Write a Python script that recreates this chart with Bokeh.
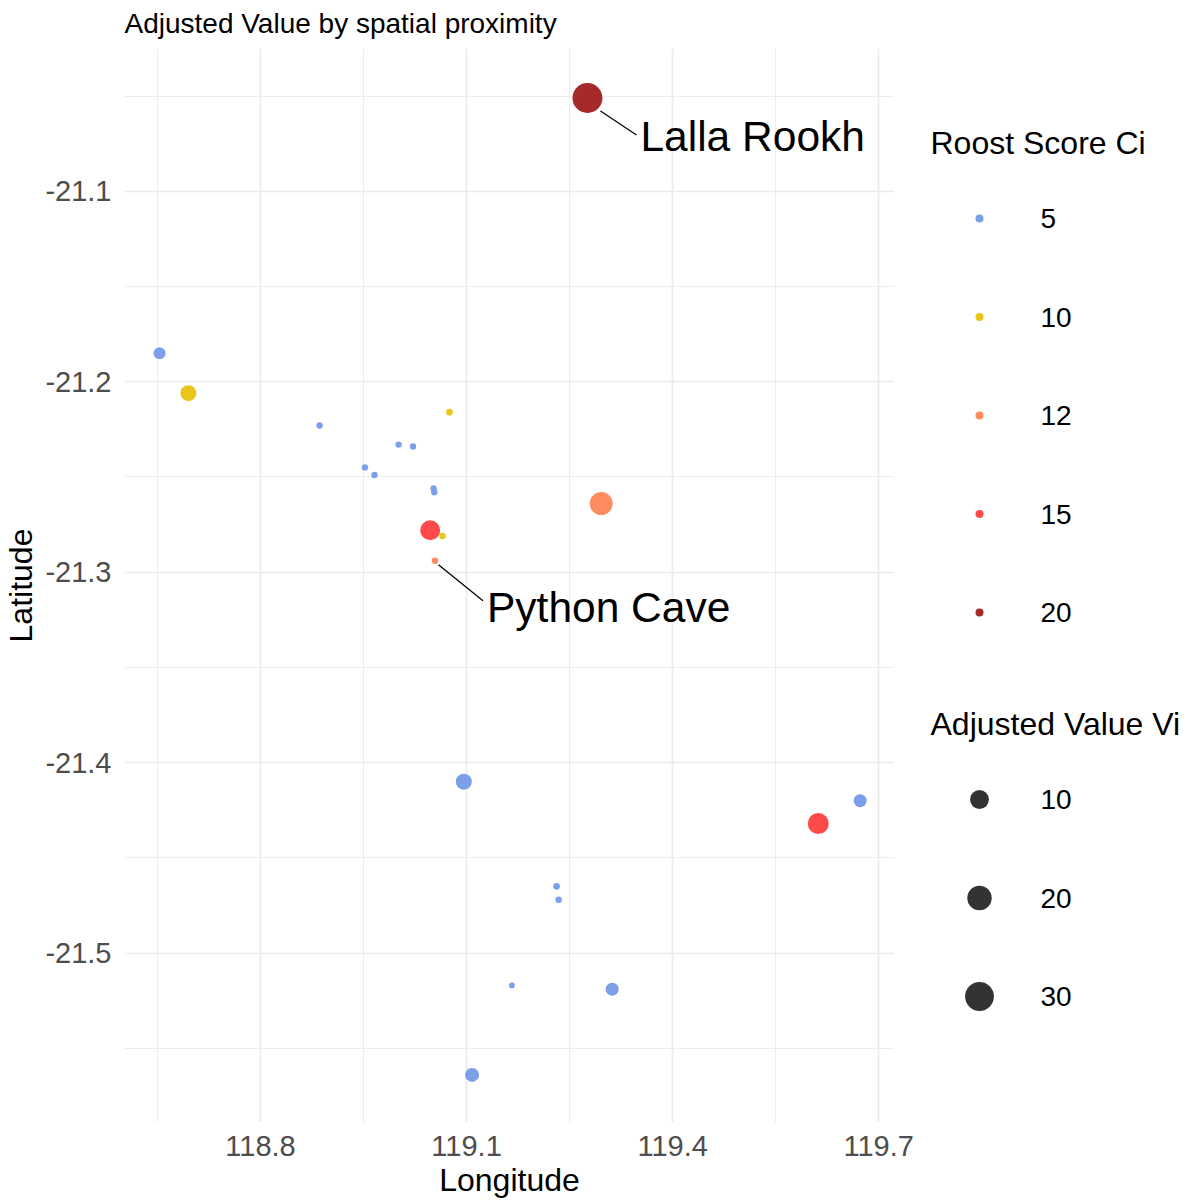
import numpy as np
from bokeh.plotting import figure
from bokeh.models import Range1d, FixedTicker, ColumnDataSource, NumeralTickFormatter
from bokeh.layouts import row
from bokeh.embed import file_html
from bokeh.resources import INLINE
from bokeh.core.properties import value

# ---------------- data ----------------
lon = [118.653, 118.695, 118.886, 119.075, 119.001, 119.022, 118.952, 118.966,
       119.052, 119.053, 119.047, 119.065, 119.054, 119.296, 119.276, 119.096,
       119.673, 119.612, 119.231, 119.234, 119.166, 119.312, 119.108]
lat = [-21.185, -21.206, -21.223, -21.216, -21.233, -21.234, -21.245, -21.249,
       -21.256, -21.258, -21.278, -21.281, -21.294, -21.264, -21.051, -21.410,
       -21.420, -21.432, -21.465, -21.472, -21.517, -21.519, -21.564]
roost_ci = [5, 10, 5, 10, 5, 5, 5, 5, 5, 5, 15, 10, 12, 12, 20, 5, 5, 15, 5, 5, 5, 5, 5]
adj_vi = [2.6, 6.4, 0.1, 0.15, 0.1, 0.1, 0.1, 0.1, 0.1, 0.1, 11.9, 0.1, 0.1, 17.1,
          33.0, 6.4, 3.4, 13.5, 0.15, 0.1, 0.03, 3.4, 4.3]

ci_levels = [5, 10, 12, 15, 20]
ci_colors = ["#7B9FE8", "#E8C61A", "#FF8C5E", "#FF4A4A", "#A52A2A"]
vi_levels = [10, 20, 30]

x_ticks = [118.8, 119.1, 119.4, 119.7]
x_minor = [118.65, 118.95, 119.25, 119.55]
y_ticks = [-21.5, -21.4, -21.3, -21.2, -21.1]
y_minor = [-21.55, -21.45, -21.35, -21.25, -21.15, -21.05]

title_text = "Adjusted Value by spatial proximity"
label_names = ["Lalla Rookh", "Python Cave"]
label_idx = [14, 12]

# ---------------- style / layout ----------------
FONT = "Liberation Sans"
X0, X1 = 118.602, 119.723
Y0, Y1 = -21.589, -21.025
FW, FH = 770, 1074
BL, BT, BB, BR = 123, 48, 70, 30
DMIN, DMAX, VMAX = 5.0, 30.0, 33.0


def diam(v):
    v = np.asarray(v, dtype=float)
    return DMIN + (DMAX - DMIN) * np.sqrt(np.clip(v, 0, None) / VMAX)


cmap = dict(zip(ci_levels, ci_colors))

p = figure(frame_width=FW, frame_height=FH,
           x_range=Range1d(X0, X1), y_range=Range1d(Y0, Y1),
           output_backend="svg", toolbar_location=None,
           min_border_left=BL, min_border_right=BR,
           min_border_top=BT, min_border_bottom=BB)
p.outline_line_color = None
p.background_fill_color = "white"
p.border_fill_color = "white"

p.title.text = title_text
p.title.text_font = FONT
p.title.text_font_size = "28px"
p.title.text_font_style = "normal"
p.title.text_color = "black"
p.title.align = "left"
p.title.vertical_align = "top"
p.title.standoff = 15

p.xaxis.ticker = FixedTicker(ticks=x_ticks, minor_ticks=x_minor)
p.yaxis.ticker = FixedTicker(ticks=y_ticks, minor_ticks=y_minor)
p.xaxis.formatter = NumeralTickFormatter(format="0.0")
p.yaxis.formatter = NumeralTickFormatter(format="0.0")
for ax in (p.xaxis, p.yaxis):
    ax.axis_line_color = None
    ax.major_tick_line_color = None
    ax.minor_tick_line_color = None
    ax.major_label_text_font = FONT
    ax.major_label_text_font_size = "29px"
    ax.major_label_text_color = "#4D4D4D"
    ax.axis_label_text_font = FONT
    ax.axis_label_text_font_size = "32px"
    ax.axis_label_text_font_style = "normal"
    ax.axis_label_text_color = "black"
p.xaxis.axis_label = "Longitude"
p.yaxis.axis_label = "Latitude"
p.xaxis.major_label_standoff = 7
p.yaxis.major_label_standoff = 7
p.xaxis.axis_label_standoff = 3
p.yaxis.axis_label_standoff = 3

for g in (p.xgrid, p.ygrid):
    g.grid_line_color = "#EBEBEB"
    g.grid_line_width = 1.7
    g.minor_grid_line_color = "#EBEBEB"
    g.minor_grid_line_width = 0.9

src = ColumnDataSource(dict(
    lon=lon, lat=lat, ci=roost_ci, vi=adj_vi,
    size=diam(adj_vi), color=[cmap[c] for c in roost_ci]))
p.scatter(x="lon", y="lat", size="size", fill_color="color", line_color=None,
          fill_alpha=1.0, source=src)

# repel-style labels: offsets in screen px
sx = FW / (X1 - X0)
sy = FH / (Y1 - Y0)
seg_start = [(13, 13), (3.5, 4)]
seg_end = [(49, 37), (48, 40)]
text_off = [(53, 38), (52, 47)]
for k, i in enumerate(label_idx):
    x, y = lon[i], lat[i]
    p.segment(x0=[x + seg_start[k][0] / sx], y0=[y - seg_start[k][1] / sy],
              x1=[x + seg_end[k][0] / sx], y1=[y - seg_end[k][1] / sy],
              line_color="black", line_width=1.3)
    p.text(x=[x], y=[y], text=[label_names[k]], x_offset=text_off[k][0],
           y_offset=text_off[k][1], text_align="left", text_baseline="middle",
           text_font=value(FONT), text_font_size="42.5px", text_color="black")

# ---------------- legend panel (frame aligned with the main frame) ----------------
LW = 270
lg = figure(frame_width=LW, frame_height=FH, x_range=Range1d(0, LW),
            y_range=Range1d(FH, 0), output_backend="svg", toolbar_location=None,
            min_border=0, x_axis_location=None, y_axis_location=None)
lg.outline_line_color = None
lg.xgrid.visible = False
lg.ygrid.visible = False

TX, DX, LX = 6, 55, 116
STEP = 98.5
lg.text(x=[TX], y=[94], text=["Roost Score Ci"], text_baseline="middle",
        text_font=value(FONT), text_font_size="32px", text_color="black")
ci_y = [170 + STEP * k for k in range(len(ci_levels))]
lg.scatter(x=[DX] * len(ci_levels), y=ci_y, size=8, fill_color=ci_colors, line_color=None)
lg.text(x=[LX] * len(ci_levels), y=ci_y, text=[str(c) for c in ci_levels],
        text_baseline="middle", text_font=value(FONT), text_font_size="28px",
        text_color="black")

lg.text(x=[TX], y=[675], text=["Adjusted Value Vi"], text_baseline="middle",
        text_font=value(FONT), text_font_size="32px", text_color="black")
vi_y = [751 + STEP * k for k in range(len(vi_levels))]
lg.scatter(x=[DX] * len(vi_levels), y=vi_y, size=diam(vi_levels),
           fill_color="#333333", line_color=None)
lg.text(x=[LX] * len(vi_levels), y=vi_y, text=[str(v) for v in vi_levels],
        text_baseline="middle", text_font=value(FONT), text_font_size="28px",
        text_color="black")

layout = row(p, lg)
open("out.html", "w").write(file_html(layout, INLINE))
